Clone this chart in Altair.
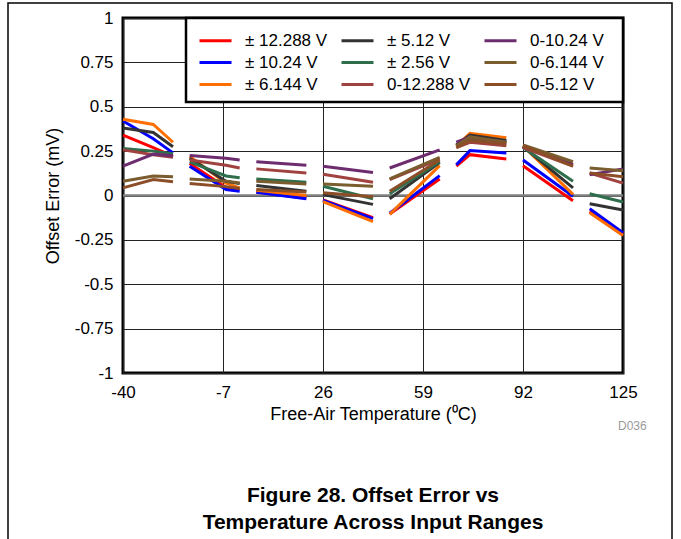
import altair as alt
import pandas as pd

# Input ranges and their line colours
SERIES = ["± 12.288 V", "± 10.24 V", "± 6.144 V", "± 5.12 V", "± 2.56 V",
          "0-12.288 V", "0-10.24 V", "0-6.144 V", "0-5.12 V"]
COLORS = ["#FF0000", "#0000FF", "#FF6F00", "#333333", "#2F6E4C",
          "#A0423F", "#6C2C6E", "#7A5C2E", "#8B4E26"]

# Temperatures (degC) sampled within each measurement block
SEG_TEMPS = [[-40, -30, -23.5], [-18, -6, -1.5], [4, 20.5], [26, 42.5],
             [48, 64.5], [70, 74.5, 86.5], [92, 108.5], [114, 125]]

# Offset error (mV) per block for every input range
BIP_12288 = [[0.34, 0.27, 0.22], [0.18, 0.045, 0.037], [0.02, -0.015], [-0.025, -0.125],
             [-0.105, 0.093], [0.165, 0.23, 0.205], [0.168, -0.03], [-0.09, -0.215]]
BIP_1024 = [[0.42, 0.32, 0.24], [0.165, 0.034, 0.024], [0.018, -0.018], [-0.028, -0.13],
            [-0.10, 0.112], [0.173, 0.253, 0.24], [0.20, -0.004], [-0.075, -0.21]]
BIP_6144 = [[0.43, 0.40, 0.30], [0.22, 0.07, 0.043], [0.03, 0.0], [-0.034, -0.147],
            [-0.106, 0.168], [0.28, 0.35, 0.325], [0.28, 0.006], [-0.097, -0.225]]
BIP_512 = [[0.38, 0.355, 0.275], [0.21, 0.08, 0.067], [0.056, 0.024], [0.005, -0.05],
           [-0.018, 0.186], [0.285, 0.34, 0.31], [0.275, 0.043], [-0.047, -0.082]]
BIP_256 = [[0.265, 0.25, 0.235], [0.19, 0.11, 0.10], [0.093, 0.075], [0.052, -0.018],
           [0.01, 0.19], [0.28, 0.32, 0.30], [0.27, 0.08], [0.01, -0.037]]
UNI_12288 = [[0.257, 0.23, 0.215], [0.20, 0.17, 0.155], [0.15, 0.127], [0.12, 0.075],
             [0.09, 0.205], [0.27, 0.30, 0.28], [0.27, 0.165], [0.127, 0.07]]
UNI_1024 = [[0.165, 0.233, 0.224], [0.225, 0.21, 0.20], [0.19, 0.17], [0.165, 0.13],
            [0.155, 0.257], [0.30, 0.33, 0.30], [0.28, 0.175], [0.117, 0.15]]
UNI_6144 = [[0.08, 0.11, 0.105], [0.093, 0.08, 0.07], [0.08, 0.065], [0.065, 0.052],
            [0.093, 0.215], [0.28, 0.33, 0.30], [0.285, 0.19], [0.155, 0.14]]
UNI_512 = [[0.043, 0.09, 0.077], [0.067, 0.05, 0.04], [0.034, 0.02], [0.015, -0.007],
           [0.024, 0.20], [0.27, 0.31, 0.29], [0.28, 0.165], [0.127, 0.105]]

VALUES = [BIP_12288, BIP_1024, BIP_6144, BIP_512, BIP_256,
          UNI_12288, UNI_1024, UNI_6144, UNI_512]

X_TICKS = [-40, -7, 26, 59, 92, 125]
Y_TICKS = [-1, -0.75, -0.5, -0.25, 0, 0.25, 0.5, 0.75, 1]

CAPTION = ["Figure 28. Offset Error vs", "Temperature Across Input Ranges"]

rows = []
for name, blocks in zip(SERIES, VALUES):
    for k, (temps, vals) in enumerate(zip(SEG_TEMPS, blocks)):
        for t, v in zip(temps, vals):
            rows.append({"series": name, "block": k, "temp": t, "err": v})
df = pd.DataFrame(rows)

FONT = "Liberation Sans"

lines = alt.Chart(df).mark_line(strokeWidth=3, strokeCap="butt", strokeJoin="miter").encode(
    x=alt.X("temp:Q",
            scale=alt.Scale(domain=[-40, 125], nice=False, zero=False),
            axis=alt.Axis(values=X_TICKS, title="Free-Air Temperature (⁰C)",
                          labelExpr="datum.value + ''", labelPadding=11,
                          labelFlush=False, titlePadding=5)),
    y=alt.Y("err:Q",
            scale=alt.Scale(domain=[-1, 1], nice=False, zero=False),
            axis=alt.Axis(values=Y_TICKS, title="Offset Error (mV)",
                          labelExpr="datum.value + ''", labelPadding=10,
                          labelFlush=False, titlePadding=12)),
    color=alt.Color("series:N",
                    scale=alt.Scale(domain=SERIES, range=COLORS),
                    legend=alt.Legend(title=None, orient="none", legendX=75, legendY=13,
                                      columns=3, gridAlign="each",
                                      symbolType="M-2,0H2", symbolSize=256,
                                      symbolStrokeWidth=3, symbolOffset=8,
                                      labelFontSize=17, labelFont=FONT, labelColor="black",
                                      labelOffset=20, labelLimit=300,
                                      rowPadding=4, columnPadding=7, padding=0)),
    detail="block:N",
)

# white legend panel with a heavy border
legend_box = alt.Chart(pd.DataFrame({"b": [0]})).mark_rect(
    fill="white", stroke="black", strokeWidth=2.5
).encode(x=alt.value(63), x2=alt.value(500), y=alt.value(0), y2=alt.value(84))

zero_line = alt.Chart(pd.DataFrame({"y": [0]})).mark_rule(
    color="#808080", strokeWidth=2.5).encode(y="y:Q")

tag = alt.Chart(pd.DataFrame({"t": ["D036"]})).mark_text(
    align="left", baseline="alphabetic", fontSize=12, font=FONT, color="#9a9a9a"
).encode(text="t:N", x=alt.value(495), y=alt.value(412))

frame = alt.Chart(pd.DataFrame({"f": [0]})).mark_rect(
    fillOpacity=0, stroke="black", strokeWidth=1.5
).encode(x=alt.value(-115), x2=alt.value(549), y=alt.value(-15), y2=alt.value(560))

# two-line figure caption under the plot
caption_layers = []
for line, base in zip(CAPTION, [484, 511]):
    caption_layers.append(
        alt.Chart(pd.DataFrame({"c": [line]})).mark_text(
            align="center", baseline="alphabetic", fontSize=21, fontWeight="bold",
            font=FONT, color="black"
        ).encode(text="c:N", x=alt.value(250), y=alt.value(base))
    )

chart = alt.layer(frame, zero_line, lines, legend_box, tag, *caption_layers).properties(
    width=500, height=355,
    autosize=alt.AutoSizeParams(type="none"),
    padding={"left": 123, "top": 18, "right": 58, "bottom": 166},
).configure(
    font=FONT,
    background="white",
).configure_view(
    stroke="black", strokeWidth=3,
).configure_axis(
    domain=False, ticks=False,
    grid=True, gridColor="#222222", gridWidth=1,
    labelFont=FONT, labelFontSize=17, labelColor="black",
    titleFont=FONT, titleFontSize=18, titleFontWeight="normal", titleColor="black",
)

chart.save("out.html", embed_options={"renderer": "svg", "actions": False})
